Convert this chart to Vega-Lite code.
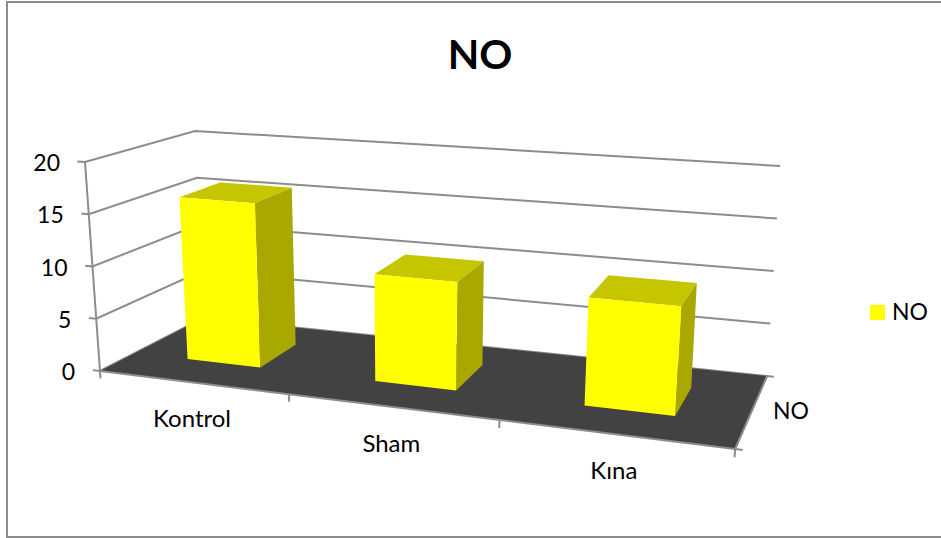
{
  "$schema": "https://vega.github.io/schema/vega-lite/v6.json",
  "width": 936,
  "height": 535,
  "autosize": {"type": "none"},
  "padding": {"left": 7, "top": 2, "right": 0, "bottom": 1},
  "background": "white",
  "config": {"view": {"stroke": "#8c8c8c", "strokeWidth": 2}, "font": "Lato"},
  "title": {"text": "NO", "font": "Lato", "fontSize": 41, "fontWeight": "bold", "color": "black", "anchor": "middle", "offset": -76, "dx": 5},
  "encoding": {
    "x": {"field": "px", "type": "quantitative", "axis": null, "scale": {"domain": [7, 943], "nice": false, "zero": false}},
    "y": {"field": "py", "type": "quantitative", "axis": null, "scale": {"domain": [537, 2], "nice": false, "zero": false}}
  },
  "layer": [
    {
      "description": "Gridlines on the side and back walls, with a short tick on the value axis",
      "data": {"values": [
        {"value": 0, "end": 3.03},
        {"value": 5, "end": 3},
        {"value": 10, "end": 3},
        {"value": 15, "end": 3},
        {"value": 20, "end": 3}
      ]},
      "transform": [
        {"calculate": "[0,1,2,3]", "as": "n"},
        {"calculate": "[-0.04,0,0,datum.end]", "as": "u"},
        {"calculate": "[0,0,1,1]", "as": "d"},
        {"flatten": ["n", "u", "d"]},
        {"calculate": "datum.value", "as": "h"},
        {"calculate": "0.2825*datum.u/(1-0.0509*datum.u)", "as": "t"},
        {"calculate": "(1-datum.h/20)*((1-datum.d)*((1-datum.t)*100+datum.t*735)+datum.d*((1-datum.t)*203+datum.t*767))+(datum.h/20)*((1-datum.d)*((1-datum.t)*85+datum.t*752)+datum.d*((1-datum.t)*195+datum.t*780))", "as": "px"},
        {"calculate": "(1-datum.h/20)*((1-datum.d)*((1-datum.t)*371+datum.t*449)+datum.d*((1-datum.t)*318+datum.t*376))+(datum.h/20)*((1-datum.d)*((1-datum.t)*162+datum.t*214)+datum.d*((1-datum.t)*131+datum.t*166))", "as": "py"}
      ],
      "mark": {"type": "line", "stroke": "#8c8c8c", "strokeWidth": 2, "clip": false},
      "encoding": {"detail": {"field": "value"}, "order": {"field": "n"}}
    },
    {
      "description": "Chart floor",
      "data": {"values": [{"part": "floor"}]},
      "transform": [
        {"calculate": "[0,1,2,3]", "as": "n"},
        {"calculate": "[0,3,3,0]", "as": "u"},
        {"calculate": "[0,0,1,1]", "as": "d"},
        {"flatten": ["n", "u", "d"]},
        {"calculate": "0", "as": "h"},
        {"calculate": "0.2825*datum.u/(1-0.0509*datum.u)", "as": "t"},
        {"calculate": "(1-datum.h/20)*((1-datum.d)*((1-datum.t)*100+datum.t*735)+datum.d*((1-datum.t)*203+datum.t*767))+(datum.h/20)*((1-datum.d)*((1-datum.t)*85+datum.t*752)+datum.d*((1-datum.t)*195+datum.t*780))", "as": "px"},
        {"calculate": "(1-datum.h/20)*((1-datum.d)*((1-datum.t)*371+datum.t*449)+datum.d*((1-datum.t)*318+datum.t*376))+(datum.h/20)*((1-datum.d)*((1-datum.t)*162+datum.t*214)+datum.d*((1-datum.t)*131+datum.t*166))", "as": "py"}
      ],
      "mark": {"type": "line", "fill": "#424242", "stroke": null, "strokeWidth": 0, "clip": false},
      "encoding": {"order": {"field": "n"}}
    },
    {
      "description": "Axis edges and tick marks",
      "data": {"values": [
        {"edge": "value axis", "u": [0, 0], "d": [0, 0], "h": [-0.7, 20], "n": [0, 1]},
        {"edge": "category axis", "u": [0, 3, 3.03], "d": [0, 0, 0], "h": [0, 0, 0], "n": [0, 1, 2]},
        {"edge": "depth axis", "u": [3, 3], "d": [0, 1], "h": [0, 0], "n": [0, 1]},
        {"edge": "tick 1", "u": [1, 1], "d": [0, 0], "h": [0, -0.7], "n": [0, 1]},
        {"edge": "tick 2", "u": [2, 2], "d": [0, 0], "h": [0, -0.7], "n": [0, 1]},
        {"edge": "tick 3", "u": [3, 3], "d": [0, 0], "h": [0, -0.7], "n": [0, 1]}
      ]},
      "transform": [
        {"flatten": ["n", "u", "d", "h"]},
        {"calculate": "0.2825*datum.u/(1-0.0509*datum.u)", "as": "t"},
        {"calculate": "(1-datum.h/20)*((1-datum.d)*((1-datum.t)*100+datum.t*735)+datum.d*((1-datum.t)*203+datum.t*767))+(datum.h/20)*((1-datum.d)*((1-datum.t)*85+datum.t*752)+datum.d*((1-datum.t)*195+datum.t*780))", "as": "px"},
        {"calculate": "(1-datum.h/20)*((1-datum.d)*((1-datum.t)*371+datum.t*449)+datum.d*((1-datum.t)*318+datum.t*376))+(datum.h/20)*((1-datum.d)*((1-datum.t)*162+datum.t*214)+datum.d*((1-datum.t)*131+datum.t*166))", "as": "py"}
      ],
      "mark": {"type": "line", "stroke": "#8c8c8c", "strokeWidth": 2, "clip": false},
      "encoding": {"detail": {"field": "edge"}, "order": {"field": "n"}}
    },
    {
      "description": "Bar tops",
      "data": {"name": "bars", "values": [
        {"category": "Kontrol", "index": 0, "value": 15.9, "series": "NO"},
        {"category": "Sham", "index": 1, "value": 10.1, "series": "NO"},
        {"category": "Kına", "index": 2, "value": 9.8, "series": "NO"}
      ]},
      "transform": [
        {"calculate": "[0,1,2,3]", "as": "n"},
        {"calculate": "[datum.index+0.3,datum.index+0.7,datum.index+0.7,datum.index+0.3]", "as": "u"},
        {"calculate": "[0.34,0.34,0.74,0.74]", "as": "d"},
        {"flatten": ["n", "u", "d"]},
        {"calculate": "datum.value", "as": "h"},
        {"calculate": "0.2825*datum.u/(1-0.0509*datum.u)", "as": "t"},
        {"calculate": "(1-datum.h/20)*((1-datum.d)*((1-datum.t)*100+datum.t*735)+datum.d*((1-datum.t)*203+datum.t*767))+(datum.h/20)*((1-datum.d)*((1-datum.t)*85+datum.t*752)+datum.d*((1-datum.t)*195+datum.t*780))", "as": "px"},
        {"calculate": "(1-datum.h/20)*((1-datum.d)*((1-datum.t)*371+datum.t*449)+datum.d*((1-datum.t)*318+datum.t*376))+(datum.h/20)*((1-datum.d)*((1-datum.t)*162+datum.t*214)+datum.d*((1-datum.t)*131+datum.t*166))", "as": "py"}
      ],
      "mark": {"type": "line", "fill": "#c6c600", "stroke": null, "strokeWidth": 0, "clip": false},
      "encoding": {"detail": {"field": "category"}, "order": {"field": "n"}}
    },
    {
      "description": "Bar right sides",
      "data": {"name": "bars"},
      "transform": [
        {"calculate": "[0,1,2,3]", "as": "n"},
        {"calculate": "datum.index+0.7", "as": "u"},
        {"calculate": "[0.34,0.74,0.74,0.34]", "as": "d"},
        {"calculate": "[0,0,datum.value,datum.value]", "as": "h"},
        {"flatten": ["n", "d", "h"]},
        {"calculate": "0.2825*datum.u/(1-0.0509*datum.u)", "as": "t"},
        {"calculate": "(1-datum.h/20)*((1-datum.d)*((1-datum.t)*100+datum.t*735)+datum.d*((1-datum.t)*203+datum.t*767))+(datum.h/20)*((1-datum.d)*((1-datum.t)*85+datum.t*752)+datum.d*((1-datum.t)*195+datum.t*780))", "as": "px"},
        {"calculate": "(1-datum.h/20)*((1-datum.d)*((1-datum.t)*371+datum.t*449)+datum.d*((1-datum.t)*318+datum.t*376))+(datum.h/20)*((1-datum.d)*((1-datum.t)*162+datum.t*214)+datum.d*((1-datum.t)*131+datum.t*166))", "as": "py"}
      ],
      "mark": {"type": "line", "fill": "#a8a800", "stroke": null, "strokeWidth": 0, "clip": false},
      "encoding": {"detail": {"field": "category"}, "order": {"field": "n"}}
    },
    {
      "description": "Bar front faces, which also carry the series legend",
      "data": {"name": "bars"},
      "transform": [
        {"calculate": "[0,1,2,3]", "as": "n"},
        {"calculate": "[datum.index+0.3,datum.index+0.7,datum.index+0.7,datum.index+0.3]", "as": "u"},
        {"calculate": "[0,0,datum.value,datum.value]", "as": "h"},
        {"flatten": ["n", "u", "h"]},
        {"calculate": "0.34", "as": "d"},
        {"calculate": "0.2825*datum.u/(1-0.0509*datum.u)", "as": "t"},
        {"calculate": "(1-datum.h/20)*((1-datum.d)*((1-datum.t)*100+datum.t*735)+datum.d*((1-datum.t)*203+datum.t*767))+(datum.h/20)*((1-datum.d)*((1-datum.t)*85+datum.t*752)+datum.d*((1-datum.t)*195+datum.t*780))", "as": "px"},
        {"calculate": "(1-datum.h/20)*((1-datum.d)*((1-datum.t)*371+datum.t*449)+datum.d*((1-datum.t)*318+datum.t*376))+(datum.h/20)*((1-datum.d)*((1-datum.t)*162+datum.t*214)+datum.d*((1-datum.t)*131+datum.t*166))", "as": "py"}
      ],
      "mark": {"type": "line", "stroke": null, "strokeWidth": 0, "clip": false},
      "encoding": {
        "detail": {"field": "category"},
        "order": {"field": "n"},
        "fill": {
          "field": "series",
          "type": "nominal",
          "scale": {"domain": ["NO"], "range": ["#ffff00"]},
          "legend": {
            "orient": "none",
            "legendX": 859,
            "legendY": 299,
            "title": null,
            "padding": 0,
            "symbolType": "square",
            "symbolSize": 225,
            "symbolStrokeWidth": 0,
            "symbolFillColor": "#ffff00",
            "labelFont": "Lato",
            "labelFontSize": 23,
            "labelColor": "black",
            "labelOffset": 3
          }
        }
      }
    },
    {
      "description": "Value axis labels",
      "data": {"values": [{"value": 0}, {"value": 5}, {"value": 10}, {"value": 15}, {"value": 20}]},
      "transform": [
        {"calculate": "datum.value", "as": "h"},
        {"calculate": "100+(85-100)*datum.h/20", "as": "px"},
        {"calculate": "371+(162-371)*datum.h/20", "as": "py"}
      ],
      "mark": {"type": "text", "align": "right", "baseline": "middle", "dx": -25, "dy": 2, "fontSize": 23, "font": "Lato", "color": "black", "clip": false},
      "encoding": {"text": {"field": "value", "type": "nominal"}}
    },
    {
      "description": "Category labels below the front floor edge",
      "data": {"name": "bars"},
      "transform": [
        {"calculate": "0.2825*(datum.index+0.5)/(1-0.0509*(datum.index+0.5))", "as": "t"},
        {"calculate": "100+635*datum.t", "as": "px"},
        {"calculate": "371+78*datum.t", "as": "py"}
      ],
      "mark": {"type": "text", "align": "center", "baseline": "middle", "dy": 38, "fontSize": 24, "font": "Lato", "color": "black", "clip": false},
      "encoding": {"text": {"field": "category"}}
    },
    {
      "description": "Depth axis label",
      "data": {"values": [{"series": "NO"}]},
      "transform": [
        {"calculate": "(735+767)/2", "as": "px"},
        {"calculate": "(449+376)/2", "as": "py"}
      ],
      "mark": {"type": "text", "align": "left", "baseline": "middle", "dx": 22, "dy": -1, "fontSize": 23, "font": "Lato", "color": "black", "clip": false},
      "encoding": {"text": {"field": "series"}}
    }
  ]
}
